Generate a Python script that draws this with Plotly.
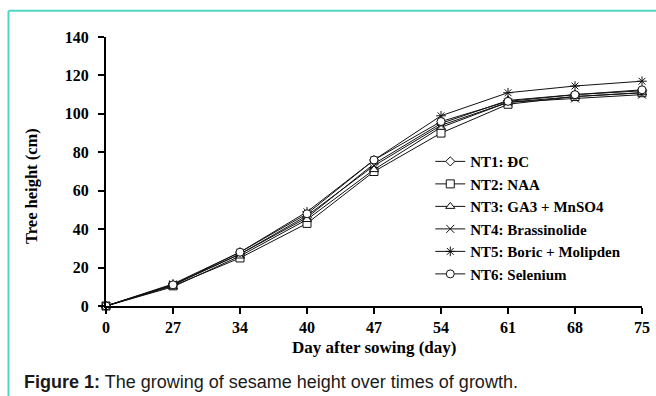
import plotly.graph_objects as go

days = ["0", "27", "34", "40", "47", "54", "61", "68", "75"]
series_names = ["NT1: ĐC", "NT2: NAA", "NT3: GA3 + MnSO4", "NT4: Brassinolide",
                "NT5: Boric + Molipden", "NT6: Selenium"]
nt1 = [0, 11, 27, 46, 74, 95, 107, 110, 112]
nt2 = [0, 10.5, 25, 43, 70, 90, 105, 109, 111]
nt3 = [0, 10, 26, 45, 71, 93, 106, 109, 111]
nt4 = [0, 11, 27, 47, 73, 94, 106, 108, 110]
nt5 = [0, 11.5, 28, 49, 76, 99, 111, 114.5, 117]
nt6 = [0, 11, 28, 48, 76, 96, 106.5, 110, 112.5]
all_values = [nt1, nt2, nt3, nt4, nt5, nt6]
y_ticks = [0, 20, 40, 60, 80, 100, 120, 140]

symbols = ["diamond", "square", "triangle-up", "x-thin", "asterisk", "circle"]
sizes = [7, 8, 8, 8, 8, 8]

serif = "Liberation Serif, Times New Roman, serif"

# page -> paper helpers (plot area: x 106..642, y 37..306 on the page)
def px(p):
    return (p - 106) / 536

def py(p):
    return (306 - p) / 269

fig = go.Figure()
for i, (name, vals) in enumerate(zip(series_names, all_values)):
    fig.add_trace(go.Scatter(
        x=days, y=vals, name=name, mode="lines+markers",
        line=dict(color="#111111", width=1),
        marker=dict(symbol=symbols[i], size=sizes[i], color="white",
                    line=dict(color="#111111", width=1)),
        cliponaxis=False,
    ))

frame_color = "#4fd6c6"
fig.update_layout(
    width=656, height=396,
    margin=dict(l=106, r=14, t=37, b=90),
    paper_bgcolor="white", plot_bgcolor="white",
    font=dict(family=serif, color="#000000"),
    showlegend=True,
    legend=dict(
        x=0.605, y=0.598, xanchor="left", yanchor="top",
        bgcolor="rgba(0,0,0,0)", itemwidth=30,
        font=dict(family=serif, size=15, color="#000000", weight="bold"),
    ),
    xaxis=dict(
        type="category", range=[0, 8], automargin=False,
        showline=True, linecolor="#000000", linewidth=2,
        ticks="outside", ticklen=6, tickcolor="#000000", tickwidth=2,
        showgrid=False, zeroline=False,
        tickfont=dict(family=serif, size=16, color="#000000", weight="bold"),
    ),
    yaxis=dict(
        range=[0, 140], tickvals=y_ticks, automargin=False,
        showline=True, linecolor="#000000", linewidth=2,
        ticks="outside", ticklen=6, tickcolor="#000000", tickwidth=2,
        showgrid=False, zeroline=False, ticklabelstandoff=6,
        tickfont=dict(family=serif, size=16, color="#000000", weight="bold"),
    ),
    shapes=[
        dict(type="line", xref="paper", yref="paper",
             x0=px(8.5), x1=px(660), y0=py(10.7), y1=py(10.7),
             line=dict(color=frame_color, width=2)),
        dict(type="line", xref="paper", yref="paper",
             x0=px(8.5), x1=px(8.5), y0=py(10.7), y1=py(400),
             line=dict(color=frame_color, width=2)),
    ],
    annotations=[
        dict(text="<b>Day after sowing (day)</b>", xref="paper", yref="paper",
             x=0.5, y=py(347), xanchor="center", yanchor="middle", showarrow=False,
             font=dict(family=serif, size=17, color="#000000")),
        dict(text="<b>Tree height (cm)</b>", xref="paper", yref="paper",
             x=px(31), y=py(186), xanchor="center", yanchor="middle", showarrow=False,
             textangle=-90, font=dict(family=serif, size=16.5, color="#000000")),
        dict(text="<b>Figure 1:</b> The growing of sesame height over times of growth.",
             xref="paper", yref="paper", x=px(22), y=py(381.7),
             xanchor="left", yanchor="middle", showarrow=False,
             font=dict(family="Liberation Sans, Arial, sans-serif", size=18, color="#1a1a1a")),
    ],
)

fig.write_html(
    "out.html",
    config={"displayModeBar": False},
    post_script="document.body.style.margin='0';document.body.style.overflow='hidden';",
)
